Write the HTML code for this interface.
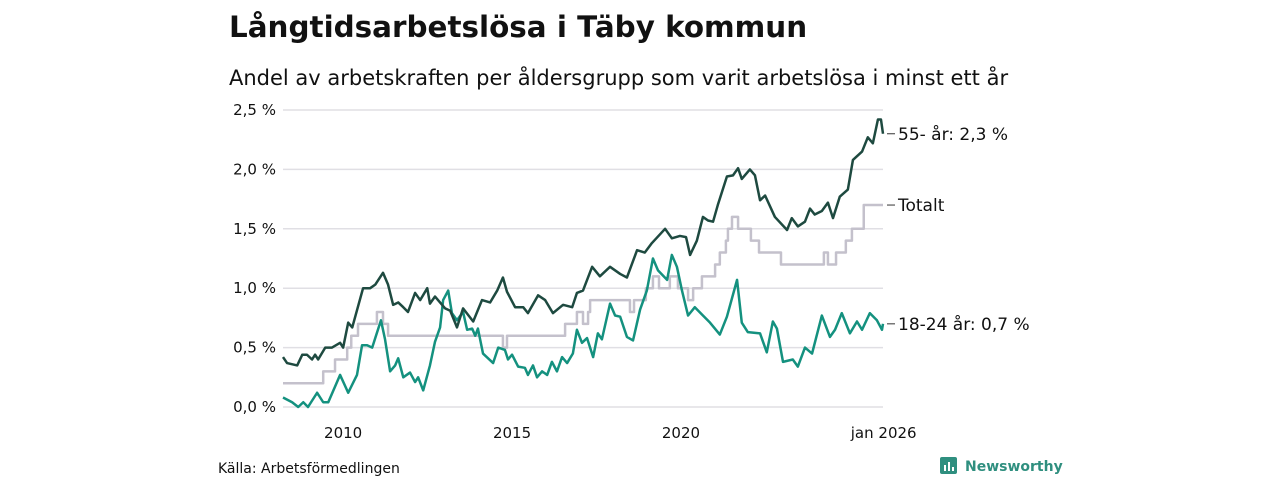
<!DOCTYPE html>
<html><head><meta charset="utf-8"><style>
body{margin:0;width:1280px;height:480px;background:#fff;font-family:"Liberation Sans","DejaVu Sans",sans-serif;overflow:hidden}
svg text{font-family:"DejaVu Sans","Liberation Sans",sans-serif;fill:#111}
</style></head><body>
<svg width="1280" height="480">
<text x="229" y="37" font-size="29.4" font-weight="bold">Långtidsarbetslösa i Täby kommun</text>
<text x="229" y="85" font-size="21">Andel av arbetskraften per åldersgrupp som varit arbetslösa i minst ett år</text>
<g id="grid"></g>
<g id="yt"></g>
<g id="xt"></g>
<g id="lines"></g>
<g id="labels"></g>
<text x="218" y="473" font-size="14">Källa: Arbetsförmedlingen</text>
<g>
<rect x="940" y="457" width="17" height="17" rx="2" fill="#2f8f7f"/>
<rect x="944" y="465" width="2" height="6" fill="#fff"/><rect x="948" y="462" width="2" height="9" fill="#fff"/><rect x="952" y="467" width="2" height="4" fill="#fff"/>
<text x="965" y="471" font-size="14" font-weight="bold" style="fill:#2f8f7f">Newsworthy</text>
</g>
</svg>
<script>
const yTicks=[0,0.5,1,1.5,2,2.5];
const yTickLabels=["0,0 %","0,5 %","1,0 %","1,5 %","2,0 %","2,5 %"];
const xTicks=[2010,2015,2020,2026];
const xTickLabels=["2010","2015","2020","jan 2026"];
const darkDates=[2008.22,2008.34,2008.64,2008.79,2008.93,2009.08,2009.17,2009.26,2009.47,2009.67,2009.91,2010.0,2010.15,2010.27,2010.59,2010.8,2010.95,2011.18,2011.33,2011.48,2011.63,2011.78,2011.92,2012.13,2012.28,2012.49,2012.57,2012.72,2013.02,2013.17,2013.37,2013.55,2013.85,2014.11,2014.35,2014.56,2014.73,2014.85,2015.09,2015.33,2015.47,2015.77,2015.98,2016.21,2016.51,2016.78,2016.92,2017.1,2017.37,2017.6,2017.9,2018.2,2018.4,2018.7,2018.93,2019.14,2019.53,2019.73,2019.97,2020.15,2020.27,2020.47,2020.65,2020.8,2020.95,2021.09,2021.36,2021.54,2021.69,2021.8,2022.04,2022.19,2022.34,2022.49,2022.78,2023.14,2023.28,2023.46,2023.67,2023.82,2023.96,2024.17,2024.35,2024.5,2024.7,2024.94,2025.09,2025.36,2025.53,2025.68,2025.83,2025.92,2025.98];
const darkValues=[0.42,0.37,0.35,0.44,0.44,0.4,0.44,0.4,0.5,0.5,0.54,0.5,0.71,0.67,1.0,1.0,1.03,1.13,1.03,0.86,0.88,0.84,0.8,0.96,0.9,1.0,0.87,0.93,0.83,0.81,0.67,0.83,0.72,0.9,0.88,0.98,1.09,0.97,0.84,0.84,0.79,0.94,0.9,0.79,0.86,0.84,0.96,0.98,1.18,1.1,1.18,1.12,1.09,1.32,1.3,1.38,1.5,1.42,1.44,1.43,1.28,1.4,1.6,1.57,1.56,1.7,1.94,1.95,2.01,1.92,2.0,1.95,1.74,1.78,1.6,1.49,1.59,1.52,1.56,1.67,1.62,1.65,1.72,1.59,1.77,1.83,2.08,2.15,2.27,2.22,2.42,2.42,2.3];
const tealDates=[2008.22,2008.49,2008.67,2008.82,2008.96,2009.23,2009.41,2009.56,2009.91,2010.15,2010.41,2010.56,2010.71,2010.86,2010.95,2011.12,2011.24,2011.39,2011.54,2011.63,2011.78,2011.98,2012.13,2012.22,2012.37,2012.57,2012.72,2012.87,2012.96,2013.11,2013.22,2013.37,2013.55,2013.67,2013.82,2013.91,2013.99,2014.14,2014.44,2014.59,2014.79,2014.88,2015.0,2015.18,2015.38,2015.47,2015.62,2015.74,2015.89,2016.04,2016.18,2016.33,2016.48,2016.63,2016.8,2016.92,2017.07,2017.22,2017.4,2017.54,2017.66,2017.9,2018.05,2018.2,2018.4,2018.58,2018.79,2018.99,2019.17,2019.32,2019.59,2019.73,2019.88,2020.03,2020.21,2020.41,2020.65,2020.86,2021.15,2021.36,2021.66,2021.8,2021.98,2022.34,2022.54,2022.72,2022.84,2023.02,2023.31,2023.46,2023.67,2023.88,2024.17,2024.41,2024.56,2024.76,2025.0,2025.21,2025.36,2025.59,2025.8,2025.95,2025.98];
const tealValues=[0.08,0.04,0.0,0.04,0.0,0.12,0.04,0.04,0.27,0.12,0.27,0.52,0.52,0.5,0.58,0.73,0.57,0.3,0.35,0.41,0.25,0.29,0.21,0.25,0.14,0.35,0.55,0.67,0.9,0.98,0.79,0.73,0.8,0.65,0.66,0.6,0.66,0.45,0.37,0.5,0.48,0.4,0.44,0.34,0.33,0.27,0.35,0.25,0.3,0.27,0.38,0.3,0.42,0.37,0.45,0.65,0.54,0.58,0.42,0.62,0.57,0.87,0.77,0.76,0.59,0.56,0.82,0.98,1.25,1.15,1.07,1.28,1.18,0.98,0.77,0.84,0.77,0.71,0.61,0.76,1.07,0.71,0.63,0.62,0.46,0.72,0.66,0.38,0.4,0.34,0.5,0.45,0.77,0.59,0.65,0.79,0.62,0.72,0.65,0.79,0.73,0.65,0.7];
const totalDates=[2008.22,2009.41,2009.76,2010.12,2010.24,2010.44,2011.0,2011.18,2011.33,2014.73,2014.85,2016.57,2016.92,2017.1,2017.25,2017.31,2018.49,2018.61,2018.96,2019.17,2019.35,2019.67,2019.91,2020.21,2020.36,2020.62,2021.01,2021.15,2021.33,2021.39,2021.51,2021.69,2022.07,2022.31,2022.96,2024.23,2024.35,2024.59,2024.88,2025.06,2025.41,2025.98];
const totalValues=[0.2,0.3,0.4,0.5,0.6,0.7,0.8,0.7,0.6,0.5,0.6,0.7,0.8,0.7,0.8,0.9,0.8,0.9,1.0,1.1,1.0,1.1,1.0,0.9,1.0,1.1,1.2,1.3,1.4,1.5,1.6,1.5,1.4,1.3,1.2,1.3,1.2,1.3,1.4,1.5,1.7,1.7];
const NS='http://www.w3.org/2000/svg';
const X0=283,X1=883,Y0=407,Y1=110;
const xs=d=>X0+(d-2008.22)/(2025.98-2008.22)*(X1-X0);
const ys=v=>Y0-v/2.5*(Y0-Y1);
function mk(t,a,p){const e=document.createElementNS(NS,t);for(const k in a)e.setAttribute(k,a[k]);p.appendChild(e);return e;}
const grid=document.getElementById('grid'),yt=document.getElementById('yt'),xt=document.getElementById('xt'),lines=document.getElementById('lines'),labels=document.getElementById('labels');
yTicks.forEach((v,i)=>{
 const l=mk('line',{x1:X0,x2:X1,y1:ys(v),y2:ys(v),stroke:'#e0dfe4','stroke-width':1.5},grid);
 
 
 const t=mk('text',{x:276,y:ys(v)+5,'font-size':15,'text-anchor':'end'},yt);t.textContent=yTickLabels[i];
 
 
});
xTicks.forEach((v,i)=>{
 const t=mk('text',{x:xs(v),y:438,'font-size':15,'text-anchor':'middle'},xt);t.textContent=xTickLabels[i];
 
 
});
function line(d,v,col,name,step){
 let s='';d.forEach((dd,i)=>{const x=xs(dd),y=ys(v[i]);if(i==0)s+='M'+x+','+y;else if(step)s+='H'+x+'V'+y;else s+='L'+x+','+y;});
 const p=mk('path',{d:s,fill:'none',stroke:col,'stroke-width':2.5,'stroke-linejoin':'round'},lines);
 
 
}
line(totalDates,totalValues,'#c4c1cc','line-totalt',true);
line(tealDates,tealValues,'#14917f','line-18-24',false);
line(darkDates,darkValues,'#1e4a40','line-55-plus',false);
function lab(v,txt,name){
 const y=ys(v);
 mk('line',{x1:887,x2:895,y1:y,y2:y,stroke:'#333','stroke-width':1},labels);
 const t=mk('text',{x:898,y:y+6,'font-size':17},labels);t.textContent=txt;
 
 
}
lab(darkValues[darkValues.length-1],'55- år: 2,3 %','label-55-plus');
lab(totalValues[totalValues.length-1],'Totalt','label-totalt');
lab(tealValues[tealValues.length-1],'18-24 år: 0,7 %','label-18-24');
</script>
</body></html>
